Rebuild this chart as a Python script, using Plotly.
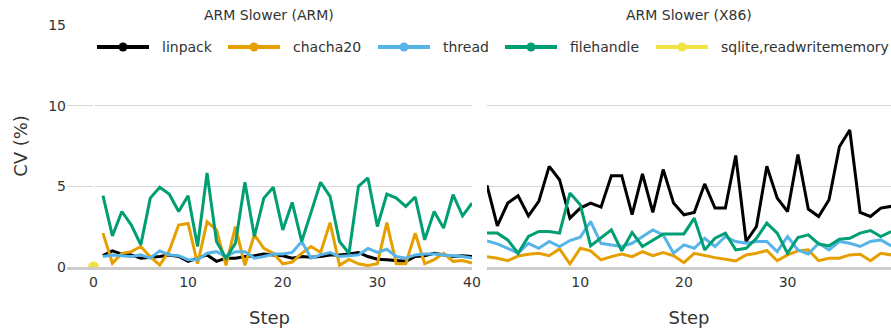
import plotly.graph_objects as go

# Coefficient of variation (%) per step, for each benchmark
steps = list(range(1, 41))

arm_linpack = [0.7, 1.0, 0.8, 0.75, 0.55, 0.6, 0.65, 0.75, 0.65, 0.35,
               0.55, 0.75, 0.35, 0.55, 0.55, 0.65, 0.7, 0.8, 0.75, 0.7,
               0.55, 0.65, 0.6, 0.65, 0.75, 0.75, 0.8, 0.9, 0.65, 0.48,
               0.45, 0.4, 0.35, 0.65, 0.7, 0.85, 0.75, 0.65, 0.7, 0.65]
arm_chacha20 = [2.1, 0.23, 0.85, 0.95, 1.27, 0.64, 0.12, 1.0, 2.6, 2.7,
                0.2, 2.8, 2.3, 0.1, 2.5, 0.1, 2.0, 1.15, 0.85, 0.2,
                0.3, 0.85, 1.27, 0.9, 2.75, 0.1, 0.47, 0.2, 0.1, 0.2,
                2.75, 0.2, 0.2, 2.1, 0.2, 0.45, 0.85, 0.35, 0.4, 0.25]
arm_thread = [0.65, 0.75, 0.7, 0.65, 0.75, 0.55, 1.0, 0.75, 0.7, 0.45,
              0.45, 0.85, 0.95, 0.65, 0.95, 0.95, 0.55, 0.65, 0.8, 0.8,
              0.9, 1.58, 0.55, 0.75, 0.9, 0.65, 0.7, 0.75, 1.15, 0.9,
              1.1, 0.65, 0.55, 0.75, 0.8, 0.8, 0.75, 0.7, 0.65, 0.55]
arm_filehandle = [4.42, 1.93, 3.44, 2.6, 1.37, 4.27, 4.94, 4.52, 3.44, 4.42,
                  1.27, 5.83, 1.58, 0.54, 1.47, 5.25, 1.89, 4.27, 4.94, 2.3,
                  4.0, 1.58, 3.4, 5.25, 4.38, 1.58, 0.85, 5.0, 5.52, 2.51,
                  4.52, 4.27, 3.76, 4.34, 1.68, 3.44, 2.41, 4.48, 3.17, 3.96]
arm_sqlite_x = [0]
arm_sqlite = [0.0]

x86_linpack = [5.06, 2.55, 3.96, 4.42, 3.17, 4.07, 6.24, 5.41, 3.03, 3.65,
               3.96, 3.71, 5.66, 5.66, 3.24, 5.77, 3.38, 6.04, 3.96, 3.24,
               3.38, 5.15, 3.65, 3.65, 6.91, 1.58, 2.51, 6.24, 4.27, 3.44,
               6.97, 3.59, 3.13, 4.17, 7.45, 8.49, 3.38, 3.13, 3.65, 3.76]
x86_chacha20 = [0.64, 0.54, 0.39, 0.68, 0.79, 0.85, 0.7, 1.12, 0.19, 1.16,
                1.0, 0.44, 0.64, 0.81, 0.64, 0.95, 0.7, 0.89, 0.7, 0.27,
                0.85, 0.7, 0.58, 0.48, 0.37, 0.75, 0.85, 1.02, 0.39, 0.75,
                1.0, 1.06, 0.39, 0.54, 0.54, 0.75, 0.79, 0.39, 0.85, 0.75]
x86_thread = [1.62, 1.43, 1.16, 0.85, 1.47, 1.16, 1.58, 1.27, 1.64, 1.85,
              2.82, 1.47, 1.37, 1.27, 1.47, 1.89, 2.3, 1.99, 0.85, 1.37,
              1.16, 1.78, 1.27, 1.89, 1.58, 1.47, 1.58, 1.58, 0.95, 1.89,
              1.06, 0.81, 1.47, 1.06, 1.58, 1.47, 1.27, 1.58, 1.68, 1.31]
x86_filehandle = [2.1, 2.1, 1.68, 0.85, 1.89, 2.2, 2.2, 2.1, 4.58, 3.86,
                  1.31, 1.78, 2.3, 1.0, 2.14, 1.27, 1.68, 2.05, 2.05, 2.05,
                  3.03, 1.06, 1.78, 2.1, 1.06, 1.16, 1.78, 2.72, 2.1, 0.85,
                  1.83, 1.99, 1.43, 1.31, 1.72, 1.78, 2.1, 2.26, 1.89, 2.2]

series_names = ["linpack", "chacha20", "thread", "filehandle", "sqlite,readwritememory"]
series_colors = ["#000000", "#E69F00", "#56B4E9", "#009E73", "#F0E442"]
panel_titles = ["ARM Slower (ARM)", "ARM Slower (X86)"]

FONT = "Verdana, DejaVu Sans, sans-serif"
TEXT = "#333333"

W, H = 891, 328
ML, MR, MT, MB = 67, 0, 25, 61
PW, PH = W - ML - MR, H - MT - MB


def px_x(px):
    """Pixel column -> paper x."""
    return (px - ML) / PW


def px_y(py):
    """Pixel row -> paper y."""
    return (H - MB - py) / PH


fig = go.Figure()

panels = [
    ("x", "y", [arm_linpack, arm_chacha20, arm_thread, arm_filehandle]),
    ("x2", "y2", [x86_linpack, x86_chacha20, x86_thread, x86_filehandle]),
]
for xa, ya, values in panels:
    for name, color, ys in zip(series_names, series_colors, values):
        fig.add_trace(go.Scatter(
            x=steps, y=ys, mode="lines", name=name,
            line=dict(color=color, width=3), xaxis=xa, yaxis=ya))

fig.add_trace(go.Scatter(
    x=arm_sqlite_x, y=arm_sqlite, mode="markers", name=series_names[4],
    marker=dict(color=series_colors[4], size=11), xaxis="x", yaxis="y"))

# horizontal legend row: long line glyph with a dot, then the label
legend_left = [97, 228, 378, 505, 656]
legend_row = 47
glyph_len, label_gap = 52, 11
shapes, annotations = [], []
for name, color, left in zip(series_names, series_colors, legend_left):
    yl = px_y(legend_row)
    shapes.append(dict(type="line", xref="paper", yref="paper",
                       x0=px_x(left), x1=px_x(left + glyph_len), y0=yl, y1=yl,
                       line=dict(color=color, width=4)))
    shapes.append(dict(type="circle", xref="paper", yref="paper",
                       xsizemode="pixel", ysizemode="pixel",
                       xanchor=px_x(left + glyph_len / 2), yanchor=yl,
                       x0=-4.5, x1=4.5, y0=-4.5, y1=4.5,
                       fillcolor=color, line=dict(width=0)))
    annotations.append(dict(text=name, xref="paper", yref="paper",
                            x=px_x(left + glyph_len + label_gap), y=yl,
                            xanchor="left", yanchor="middle", showarrow=False,
                            font=dict(size=14, color=TEXT)))

for i, title in enumerate(panel_titles):
    xref = "x domain" if i == 0 else "x2 domain"
    annotations.append(dict(text=title, x=0.5, y=1, xref=xref, yref="paper",
                            xanchor="center", yanchor="bottom", showarrow=False,
                            font=dict(size=14, color=TEXT)))

xcommon = dict(showgrid=False, showline=True, linecolor="#cccccc", linewidth=3,
               ticks="", automargin=False, tickfont=dict(size=14, color=TEXT),
               title=dict(text="Step", font=dict(size=18, color=TEXT), standoff=26))

fig.update_layout(
    width=W, height=H,
    margin=dict(l=ML, r=MR, t=MT, b=MB, autoexpand=False),
    paper_bgcolor="white", plot_bgcolor="white",
    font=dict(family=FONT, color=TEXT),
    showlegend=False,
    xaxis=dict(domain=[0, 0.4915], range=[-2.8, 40], dtick=10,
               zeroline=True, zerolinecolor="white", zerolinewidth=2, **xcommon),
    xaxis2=dict(domain=[0.5097, 1], range=[1, 39.98], dtick=10,
                zeroline=False, anchor="y2", **xcommon),
    yaxis=dict(range=[0, 15], dtick=5, showgrid=True, gridcolor="#d6d6d6",
               gridwidth=1, zeroline=False, ticks="", automargin=False,
               tickfont=dict(size=14, color=TEXT),
               title=dict(text="CV (%)", font=dict(size=18, color=TEXT))),
    yaxis2=dict(range=[0, 15], dtick=5, showgrid=True, gridcolor="#d6d6d6",
                gridwidth=1, zeroline=False, showticklabels=False,
                automargin=False, anchor="x2", matches="y"),
    shapes=shapes,
    annotations=annotations,
)

fig.write_html("out.html")
